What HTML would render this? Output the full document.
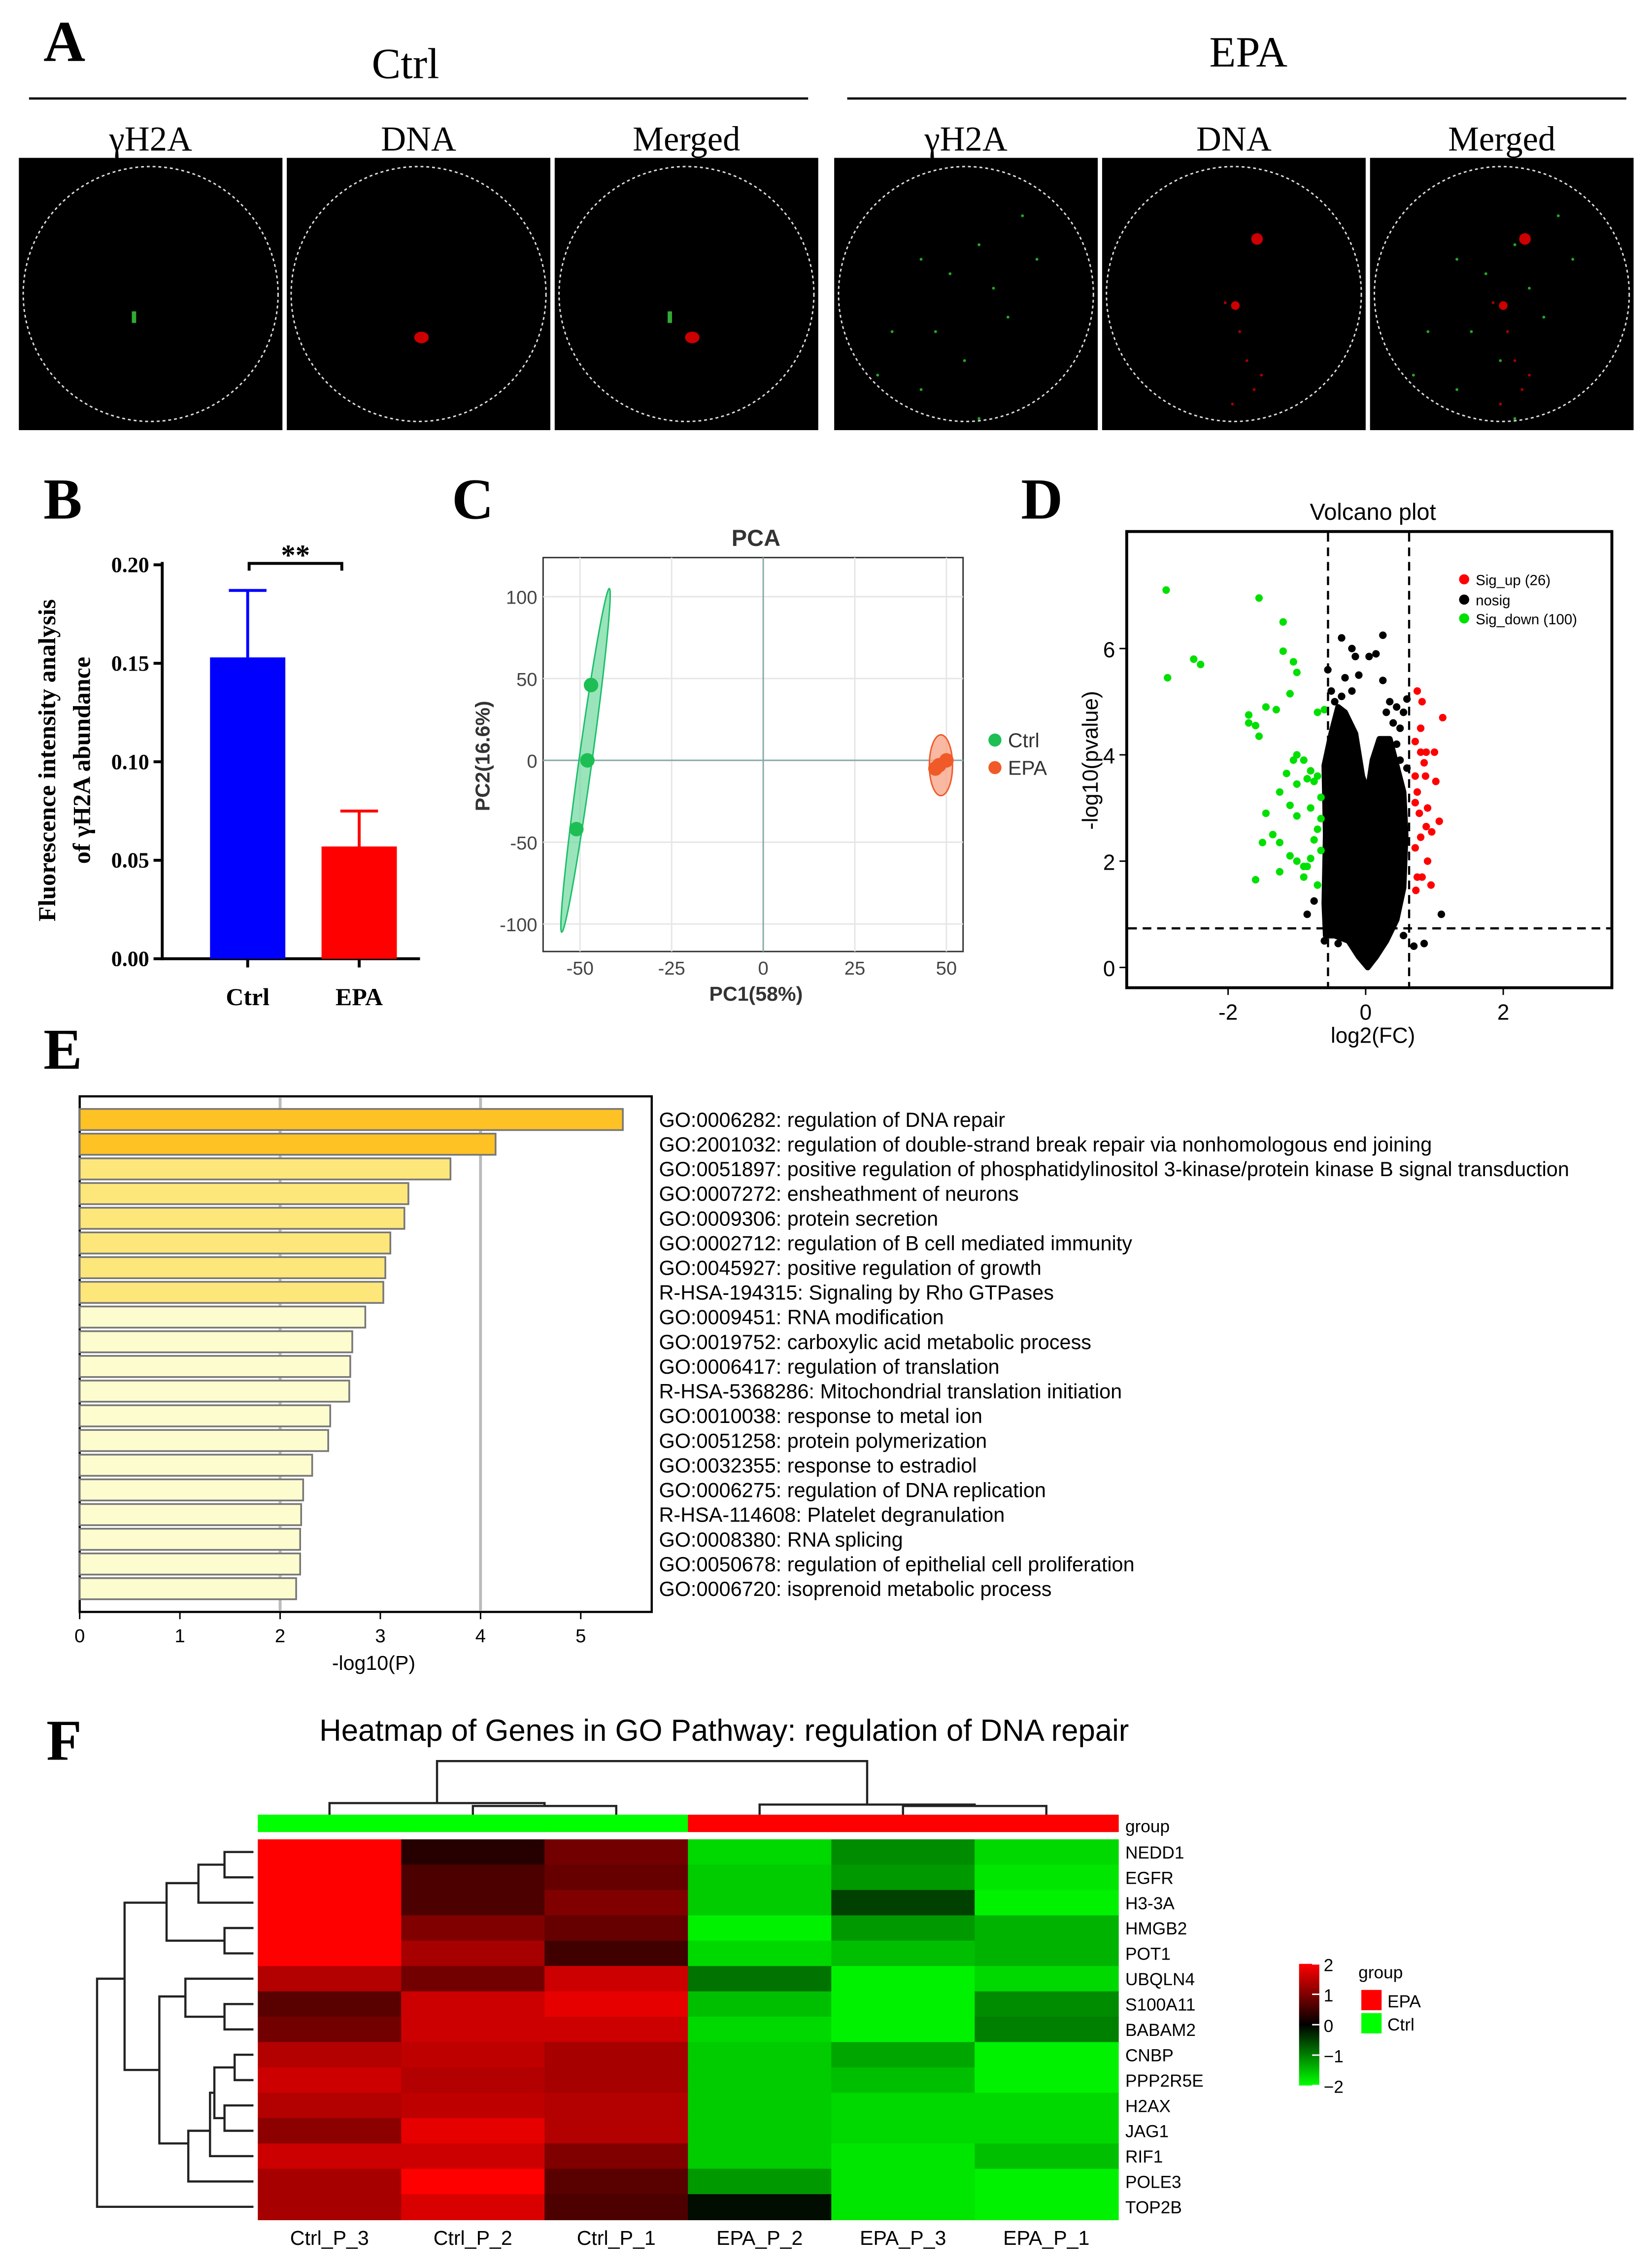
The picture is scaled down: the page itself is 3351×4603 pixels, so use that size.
<!DOCTYPE html>
<html><head><meta charset="utf-8">
<style>
html,body{margin:0;padding:0;background:#fff;}
svg{display:block;}
.serif{font-family:"Liberation Serif",serif;}
.sans{font-family:"Liberation Sans",sans-serif;}
</style></head>
<body>
<svg id="fig" xmlns="http://www.w3.org/2000/svg" width="3351" height="4603" viewBox="0 0 1140 1566">
<rect width="1140" height="1566" fill="#fff"/>
<g id="panelA" class="serif">
<text x="30" y="42" font-size="40" font-weight="bold">A</text>
<text x="280" y="54" font-size="30" text-anchor="middle">Ctrl</text>
<line x1="20" y1="68" x2="558" y2="68" stroke="#000" stroke-width="1.5"/>
<text x="862" y="46" font-size="30" text-anchor="middle">EPA</text>
<line x1="585" y1="68" x2="1123" y2="68" stroke="#000" stroke-width="1.5"/>
</g>
<g id="panelB" class="serif"></g>
<g id="panelC" class="sans"></g>
<g id="panelD" class="sans"></g>
<g id="panelE" class="sans"></g>
<g id="panelF" class="sans"></g>
</svg>
<script>
const NS="http://www.w3.org/2000/svg";
function mk(parent,tag,attrs,text){const e=document.createElementNS(NS,tag);for(const k in attrs)e.setAttribute(k,attrs[k]);if(text!==undefined)e.textContent=text;parent.appendChild(e);return e;}

// ---------- Panel A ----------
const aLabels=["γH2A","DNA","Merged","γH2A","DNA","Merged"];
const aX=[13,198,383,576,761,946];
const A=document.getElementById('panelA');
aLabels.forEach((lab,i)=>{
  const x=aX[i];
  const t=mk(A,'text',{x:x+91,y:104,'font-size':24,'text-anchor':'middle'},lab);
  
  
  const r=mk(A,'rect',{x:x,y:109,width:182,height:188,fill:'#000'});
  
  
  mk(A,'circle',{cx:x+91,cy:203,r:88,fill:'none',stroke:'#ddd','stroke-width':1,'stroke-dasharray':'2,2'});
  const col=i%3;
  if(i<3){
    if(col!==1) mk(A,'rect',{x:x+78,y:215,width:3,height:8,fill:'#3a3'});
    if(col!==0) mk(A,'ellipse',{cx:x+(col===2?95:93),cy:233,rx:5,ry:4,fill:'#c00'});
  } else {
    if(col!==1){[[60,70],[80,80],[100,60],[110,90],[120,110],[90,140],[70,120],[130,40],[140,70],[40,120],[30,150],[100,180],[60,160]].forEach(p=>mk(A,'circle',{cx:x+p[0],cy:109+p[1],r:1,fill:'#2a2'}));}
    if(col!==0){mk(A,'circle',{cx:x+107,cy:165,r:4,fill:'#c00'});mk(A,'circle',{cx:x+92,cy:211,r:3,fill:'#c00'});
      [[95,120],[100,140],[85,100],[110,150],[90,170],[105,160]].forEach(p=>mk(A,'circle',{cx:x+p[0],cy:109+p[1],r:1,fill:'#a00'}));}
  }
});

// ---------- Panel B ----------
const bCats=["Ctrl","EPA"];
const bMeans=[0.153,0.057];
const bErr=[0.034,0.018];
const bTicks=[0,0.05,0.10,0.15,0.20];
const bColors=["#0000ff","#ff0000"];
const B=document.getElementById('panelB');
const by=v=>662-v*1360; const bx=[171,248];
mk(B,'text',{x:30,y:358,'font-size':40,'font-weight':'bold'},'B');
mk(B,'line',{x1:112,y1:388,x2:112,y2:663,stroke:'#000','stroke-width':2});
mk(B,'line',{x1:111,y1:662,x2:290,y2:662,stroke:'#000','stroke-width':2});
bTicks.forEach(t=>{mk(B,'line',{x1:106,y1:by(t),x2:112,y2:by(t),stroke:'#000','stroke-width':2});
  mk(B,'text',{x:103,y:by(t)+5,'font-size':15,'font-weight':'bold','text-anchor':'end'},t.toFixed(2));});
bCats.forEach((c,i)=>{
  const b=mk(B,'rect',{x:bx[i]-26,y:by(bMeans[i]),width:52,height:662-by(bMeans[i]),fill:bColors[i]});
  
  
  const top=by(bMeans[i]+bErr[i]);
  mk(B,'line',{x1:bx[i],y1:by(bMeans[i]),x2:bx[i],y2:top,stroke:bColors[i],'stroke-width':2});
  mk(B,'line',{x1:bx[i]-13,y1:top,x2:bx[i]+13,y2:top,stroke:bColors[i],'stroke-width':2});
  mk(B,'line',{x1:bx[i],y1:662,x2:bx[i],y2:668,stroke:'#000','stroke-width':2});
  mk(B,'text',{x:bx[i],y:694,'font-size':17,'font-weight':'bold','text-anchor':'middle'},c);
});
mk(B,'path',{d:'M172,394 V389 H236 V394',fill:'none',stroke:'#000','stroke-width':2});
mk(B,'text',{x:204,y:390,'font-size':20,'font-weight':'bold','text-anchor':'middle'},'**');
mk(B,'text',{x:38,y:525,'font-size':17,'font-weight':'bold','text-anchor':'middle',transform:'rotate(-90 38 525)'},'Fluorescence intensity analysis');
mk(B,'text',{x:62,y:525,'font-size':17,'font-weight':'bold','text-anchor':'middle',transform:'rotate(-90 62 525)'},'of γH2A abundance');

// ---------- Panel C ----------
const pcaCtrlX=[-47,-48,-51];
const pcaCtrlY=[46,0,-42];
const pcaEpaX=[48,50,47];
const pcaEpaY=[-3,0,-5];
const pcaXTicks=[-50,-25,0,25,50];
const pcaYTicks=[100,50,0,-50,-100];
const C=document.getElementById('panelC');
const cx=v=>527+v*2.53, cy=v=>525-v*1.13;
mk(C,'text',{x:312,y:358,'font-size':40,'font-weight':'bold','font-family':'Liberation Serif'},'C');
mk(C,'text',{x:522,y:377,'font-size':16,'font-weight':'bold','text-anchor':'middle',fill:'#333'},'PCA');
mk(C,'rect',{x:375,y:385,width:290,height:272,fill:'#fff',stroke:'#333','stroke-width':1});
pcaXTicks.forEach(t=>{mk(C,'line',{x1:cx(t),y1:385,x2:cx(t),y2:657,stroke:'#e6e6e6'});
  mk(C,'text',{x:cx(t),y:673,'font-size':13,'text-anchor':'middle',fill:'#444'},t);});
pcaYTicks.forEach(t=>{mk(C,'line',{x1:375,y1:cy(t),x2:665,y2:cy(t),stroke:'#e6e6e6'});
  mk(C,'text',{x:371,y:cy(t)+5,'font-size':13,'text-anchor':'end',fill:'#444'},t);});
mk(C,'line',{x1:cx(0),y1:385,x2:cx(0),y2:657,stroke:'#8aa','stroke-width':1});
mk(C,'line',{x1:375,y1:cy(0),x2:665,y2:cy(0),stroke:'#8aa','stroke-width':1});
(function(){const x1=cx(-42),y1=cy(105),x2=cx(-55),y2=cy(-105);const mx=(x1+x2)/2,my=(y1+y2)/2;const len=Math.hypot(x2-x1,y2-y1);const ang=Math.atan2(y2-y1,x2-x1)*180/Math.PI;
 const e=mk(C,'ellipse',{cx:mx,cy:my,rx:len/2,ry:4.5,transform:`rotate(${ang} ${mx} ${my})`,fill:'#6fd9a0','fill-opacity':0.7,stroke:'#1dbf6a'});
 })();
const ee=mk(C,'ellipse',{cx:cx(48.5),cy:cy(-3),rx:8,ry:21,fill:'#f7a68a','fill-opacity':0.8,stroke:'#f05a28'});

pcaCtrlX.forEach((v,i)=>{const p=mk(C,'circle',{cx:cx(v),cy:cy(pcaCtrlY[i]),r:5,fill:'#1dbf55'});});
pcaEpaX.forEach((v,i)=>{const p=mk(C,'circle',{cx:cx(v),cy:cy(pcaEpaY[i]),r:5,fill:'#f05a28'});});
mk(C,'text',{x:522,y:691,'font-size':14,'font-weight':'bold','text-anchor':'middle',fill:'#333'},'PC1(58%)');
mk(C,'text',{x:338,y:522,'font-size':14,'font-weight':'bold','text-anchor':'middle',fill:'#333',transform:'rotate(-90 338 522)'},'PC2(16.6%)');
mk(C,'circle',{cx:687,cy:511,r:4.5,fill:'#1dbf55'});mk(C,'text',{x:696,y:516,'font-size':14,fill:'#333'},'Ctrl');
mk(C,'circle',{cx:687,cy:530,r:4.5,fill:'#f05a28'});mk(C,'text',{x:696,y:535,'font-size':14,fill:'#333'},'EPA');

// ---------- Panel D ----------
const upFC=[0.75,0.82,1.12,0.8,0.72,0.8,0.88,1.0,0.72,0.87,1.02,0.72,0.9,1.07,0.78,0.88,0.96,0.75,0.82,0.73,0.8,0.9,0.75,0.72,0.95,0.85];
const upP=[5.2,5.0,4.7,4.5,4.25,4.05,4.05,4.05,3.6,3.6,3.5,3.1,3.0,2.75,2.9,2.65,2.55,1.7,1.7,1.45,2.45,2.0,3.3,2.25,1.55,3.85];
const downFC=[-2.9,-2.88,-2.5,-2.4,-1.55,-1.2,-1.2,-1.05,-1.0,-1.1,-1.3,-1.45,-1.7,-1.7,-1.6,-1.55,-1.0,-1.05,-0.9,-0.8,-0.7,-0.7,-1.15,-0.85,-0.75,-1.25,-1.45,-1.35,-1.1,-1.0,-0.8,-0.7,-1.5,-1.25,-1.1,-0.9,-0.8,-0.7,-1.6,-1.25,-0.65,-0.65,-0.9,-0.75,-1.0,-0.85,-0.7,-1.0,-0.65,-0.6];
const downP=[7.1,5.45,5.8,5.7,6.95,6.5,5.95,5.75,5.55,5.15,4.85,4.9,4.75,4.6,4.55,4.35,4.0,3.9,3.9,3.7,3.6,4.8,3.65,3.55,3.5,3.3,2.9,2.5,3.05,2.85,3.0,2.6,2.35,2.35,2.1,1.9,2.05,1.55,1.65,1.8,2.8,2.2,1.7,2.4,2.0,1.9,1.55,3.45,3.2,4.85];
const nsFC=[-0.35,-0.15,0.25,0.15,-0.55,-0.5,-0.35,-0.3,-0.2,0.25,0.35,0.45,0.6,0.4,0.5,0.45,-0.2,0.05,-0.45,-0.6,-0.75,-0.85,0.7,0.85,1.1,0.6,0.5,0.55,-0.4,-0.1,0.3,0.55];
const nsP=[6.2,5.85,6.25,5.9,5.6,5.2,5.1,5.45,5.2,5.4,5.0,4.9,5.05,4.6,4.5,4.2,6.0,5.85,5.0,0.5,1.25,1.0,0.4,0.45,1.0,3.75,3.9,0.6,0.45,5.5,4.8,4.8];
const cloudFC=[-0.58,-0.6,-0.58,-0.6,-0.5,-0.4,-0.3,-0.15,-0.05,0.03,0.1,0.2,0.35,0.45,0.55,0.58,0.55,0.45,0.3,0.15,0.03,-0.1,-0.25,-0.45];
const cloudP=[0.6,1.2,2.5,3.8,4.4,4.9,4.8,4.4,3.6,3.3,3.9,4.3,4.3,3.8,3.3,2.5,1.5,0.9,0.5,0.2,0.0,0.2,0.5,0.6];
const volX=[-2,0,2], volY=[0,2,4,6];
const D=document.getElementById('panelD');
const dx=v=>943+v*47.5, dy=v=>668-v*36.7;
mk(D,'text',{x:705,y:358,'font-size':40,'font-weight':'bold','font-family':'Liberation Serif'},'D');
mk(D,'text',{x:948,y:359,'font-size':16,'text-anchor':'middle'},'Volcano plot');
mk(D,'rect',{x:778,y:367,width:335,height:315,fill:'#fff',stroke:'#000','stroke-width':2});
volX.forEach(t=>{mk(D,'line',{x1:dx(t),y1:682,x2:dx(t),y2:687,stroke:'#000'});mk(D,'text',{x:dx(t),y:704,'font-size':15,'text-anchor':'middle'},t);});
volY.forEach(t=>{mk(D,'line',{x1:773,y1:dy(t),x2:778,y2:dy(t),stroke:'#000'});mk(D,'text',{x:770,y:dy(t)+6,'font-size':15,'text-anchor':'end'},t);});
mk(D,'text',{x:948,y:720,'font-size':15,'text-anchor':'middle'},'log2(FC)');
mk(D,'text',{x:758,y:525,'font-size':15,'text-anchor':'middle',transform:'rotate(-90 758 525)'},'-log10(pvalue)');
const cl=mk(D,'polygon',{points:cloudFC.map((v,i)=>dx(v)+','+dy(cloudP[i])).join(' '),fill:'#000',stroke:'#000','stroke-width':4,'stroke-linejoin':'round'});

nsFC.forEach((v,i)=>{const p=mk(D,'circle',{cx:dx(v),cy:dy(nsP[i]),r:2.6,fill:'#000'});});
downFC.forEach((v,i)=>{const p=mk(D,'circle',{cx:dx(v),cy:dy(downP[i]),r:2.6,fill:'#00e000'});});
upFC.forEach((v,i)=>{const p=mk(D,'circle',{cx:dx(v),cy:dy(upP[i]),r:2.6,fill:'#ff0000'});});
mk(D,'line',{x1:917,y1:368,x2:917,y2:681,stroke:'#000','stroke-width':1.5,'stroke-dasharray':'6,4'});
mk(D,'line',{x1:973,y1:368,x2:973,y2:681,stroke:'#000','stroke-width':1.5,'stroke-dasharray':'6,4'});
mk(D,'line',{x1:779,y1:641,x2:1112,y2:641,stroke:'#000','stroke-width':1.5,'stroke-dasharray':'6,4'});
[['#ff0000','Sig_up (26)',400],['#000','nosig',414],['#00e000','Sig_down (100)',427]].forEach(l=>{mk(D,'circle',{cx:1011,cy:l[2],r:3.5,fill:l[0]});mk(D,'text',{x:1019,y:l[2]+4,'font-size':10},l[1]);});

// ---------- Panel E ----------
const goTerms=["GO:0006282: regulation of DNA repair","GO:2001032: regulation of double-strand break repair via nonhomologous end joining","GO:0051897: positive regulation of phosphatidylinositol 3-kinase/protein kinase B signal transduction","GO:0007272: ensheathment of neurons","GO:0009306: protein secretion","GO:0002712: regulation of B cell mediated immunity","GO:0045927: positive regulation of growth","R-HSA-194315: Signaling by Rho GTPases","GO:0009451: RNA modification","GO:0019752: carboxylic acid metabolic process","GO:0006417: regulation of translation","R-HSA-5368286: Mitochondrial translation initiation","GO:0010038: response to metal ion","GO:0051258: protein polymerization","GO:0032355: response to estradiol","GO:0006275: regulation of DNA replication","R-HSA-114608: Platelet degranulation","GO:0008380: RNA splicing","GO:0050678: regulation of epithelial cell proliferation","GO:0006720: isoprenoid metabolic process"];
const goValues=[5.42,4.15,3.70,3.28,3.24,3.10,3.05,3.03,2.85,2.72,2.70,2.69,2.50,2.48,2.32,2.23,2.21,2.20,2.20,2.16];
const goXTicks=[0,1,2,3,4,5];
const E=document.getElementById('panelE');
const ex=v=>55+v*69.2, ey=i=>773+i*17.05;
mk(E,'text',{x:30,y:738,'font-size':40,'font-weight':'bold','font-family':'Liberation Serif'},'E');
mk(E,'rect',{x:55,y:757,width:395,height:356,fill:'#fff',stroke:'#000','stroke-width':1.5});
mk(E,'line',{x1:ex(2),y1:758,x2:ex(2),y2:1112,stroke:'#bbb','stroke-width':2});
mk(E,'line',{x1:ex(4),y1:758,x2:ex(4),y2:1112,stroke:'#bbb','stroke-width':2});
goValues.forEach((v,i)=>{
  const fill=v>=4?'#fec225':(v>=3?'#fee77a':'#fdfccf');
  const r=mk(E,'rect',{x:ex(0),y:ey(i)-7.3,width:ex(v)-ex(0),height:14.6,fill:fill,stroke:'#777','stroke-width':1.2});
  
  
  const t=mk(E,'text',{x:455,y:ey(i)+5,'font-size':14.1},goTerms[i]);
  
  
});
goXTicks.forEach(t=>{mk(E,'line',{x1:ex(t),y1:1113,x2:ex(t),y2:1118,stroke:'#000'});mk(E,'text',{x:ex(t),y:1134,'font-size':13,'text-anchor':'middle'},t);});
mk(E,'text',{x:258,y:1153,'font-size':14,'text-anchor':'middle'},'-log10(P)');

// ---------- Panel F ----------
const hmCols=["Ctrl_P_3","Ctrl_P_2","Ctrl_P_1","EPA_P_2","EPA_P_3","EPA_P_1"];
const hmGroups=["Ctrl","Ctrl","Ctrl","EPA","EPA","EPA"];
const hmRows=["NEDD1","EGFR","H3-3A","HMGB2","POT1","UBQLN4","S100A11","BABAM2","CNBP","PPP2R5E","H2AX","JAG1","RIF1","POLE3","TOP2B"];
const hmValues=[
[2,0.3,0.9,-1.7,-1.1,-1.7],
[2,0.6,0.8,-1.6,-1.2,-1.8],
[2,0.6,1.0,-1.6,-0.5,-1.9],
[2,1.0,0.8,-1.9,-1.2,-1.4],
[2,1.3,0.5,-1.7,-1.5,-1.4],
[1.4,0.9,1.6,-0.9,-1.9,-1.7],
[0.7,1.6,1.8,-1.5,-1.9,-1.1],
[0.9,1.6,1.6,-1.7,-1.9,-1.0],
[1.4,1.5,1.3,-1.6,-1.3,-1.9],
[1.6,1.4,1.3,-1.6,-1.5,-1.9],
[1.4,1.5,1.4,-1.6,-1.7,-1.7],
[1.1,1.8,1.4,-1.6,-1.7,-1.7],
[1.6,1.6,1.0,-1.6,-1.8,-1.5],
[1.3,2.0,0.7,-1.2,-1.8,-1.9],
[1.3,1.7,0.6,-0.1,-1.8,-1.9]];
const cbTicks=[2,1,0,-1,-2];
const F=document.getElementById('panelF');
const hx0=178,hcw=99,hy0=1270,hrh=17.5;
function hmColor(v){v=Math.max(-2,Math.min(2,v));if(v>=0){return `rgb(${Math.round(255*v/2)},0,0)`;}return `rgb(0,${Math.round(255*-v/2)},0)`;}
mk(F,'text',{x:32,y:1215,'font-size':40,'font-weight':'bold','font-family':'Liberation Serif'},'F');
mk(F,'text',{x:500,y:1202,'font-size':21,'text-anchor':'middle'},'Heatmap of Genes in GO Pathway: regulation of DNA repair');
hmGroups.forEach((g,j)=>{const r=mk(F,'rect',{x:hx0+j*hcw,y:1253,width:hcw+0.5,height:12,fill:g==='EPA'?'#ff0000':'#00ff00'});});
mk(F,'text',{x:777,y:1265,'font-size':12},'group');
hmValues.forEach((row,i)=>row.forEach((v,j)=>{
  const c=mk(F,'rect',{x:hx0+j*hcw,y:hy0+i*hrh,width:hcw+0.5,height:hrh+0.5,fill:hmColor(v)});
  
  
}));
hmRows.forEach((r,i)=>{const t=mk(F,'text',{x:777,y:hy0+i*hrh+hrh/2+4.5,'font-size':12},r);});
hmCols.forEach((c,j)=>{const t=mk(F,'text',{x:hx0+j*hcw+hcw/2,y:1550,'font-size':14,'text-anchor':'middle'},c);});
const colC=j=>hx0+j*hcw+hcw/2;
const dg='#222';
[
 `M${colC(1)},1253 V1247 H${colC(2)} V1253`,
 `M${colC(0)},1253 V1245 H${(colC(1)+colC(2))/2} V1247`,
 `M${(colC(0)+(colC(1)+colC(2))/2)/2},1245 V1216 H${(colC(3)+ (colC(4)+colC(5))/2)/2} V1246`,
 `M${colC(4)},1253 V1247 H${colC(5)} V1253`,
 `M${colC(3)},1253 V1246 H${(colC(4)+colC(5))/2} V1247`
].forEach(d=>mk(F,'path',{d:d,fill:'none',stroke:dg,'stroke-width':1.5}));
const rowC=i=>hy0+i*hrh+hrh/2;
[
 `M175,${rowC(0)} H155 V${rowC(1)} H175`,
 `M175,${rowC(2)} H137 V${(rowC(0)+rowC(1))/2} H155`,
 `M175,${rowC(3)} H155 V${rowC(4)} H175`,
 `M137,${(rowC(0)+rowC(2))/2+4} H115 V${rowC(3.5)} H155`,
 `M175,${rowC(6)} H155 V${rowC(7)} H175`,
 `M175,${rowC(5)} H128 V${rowC(6.5)} H155`,
 `M175,${rowC(8)} H162 V${rowC(9)} H175`,
 `M175,${rowC(10)} H155 V${rowC(11)} H175`,
 `M162,${rowC(8.5)} H148 V${rowC(10.5)} H155`,
 `M175,${rowC(12)} H145 V${rowC(9.5)} H148`,
 `M175,${rowC(13)} H130 V${rowC(11)} H145`,
 `M128,${rowC(5.7)} H110 V${rowC(11.5)} H130`,
 `M115,${rowC(2)} H86 V${rowC(8.6)} H110`,
 `M175,${rowC(14)} H67 V${rowC(5)} H86`
].forEach(d=>mk(F,'path',{d:d,fill:'none',stroke:dg,'stroke-width':1.5}));
const defs=mk(F,'defs',{});
const lg=mk(defs,'linearGradient',{id:'cbg',x1:0,y1:0,x2:0,y2:1});
mk(lg,'stop',{offset:'0',"stop-color":'#ff0000'});mk(lg,'stop',{offset:'0.5',"stop-color":'#000'});mk(lg,'stop',{offset:'1',"stop-color":'#00ff00'});
const cb=mk(F,'rect',{x:897,y:1356,width:14,height:84,fill:'url(#cbg)'});

cbTicks.forEach(t=>{const y=1356+(2-t)/4*84;mk(F,'line',{x1:906,y1:y,x2:911,y2:y,stroke:'#fff'});mk(F,'text',{x:914,y:y+5,'font-size':12},t===-1?'−1':t===-2?'−2':t);});
mk(F,'text',{x:938,y:1366,'font-size':12},'group');
mk(F,'rect',{x:940,y:1374,width:14,height:14,fill:'#ff0000'});mk(F,'text',{x:958,y:1386,'font-size':12},'EPA');
mk(F,'rect',{x:940,y:1390,width:14,height:14,fill:'#00ff00'});mk(F,'text',{x:958,y:1402,'font-size':12},'Ctrl');
</script>
</body></html>
